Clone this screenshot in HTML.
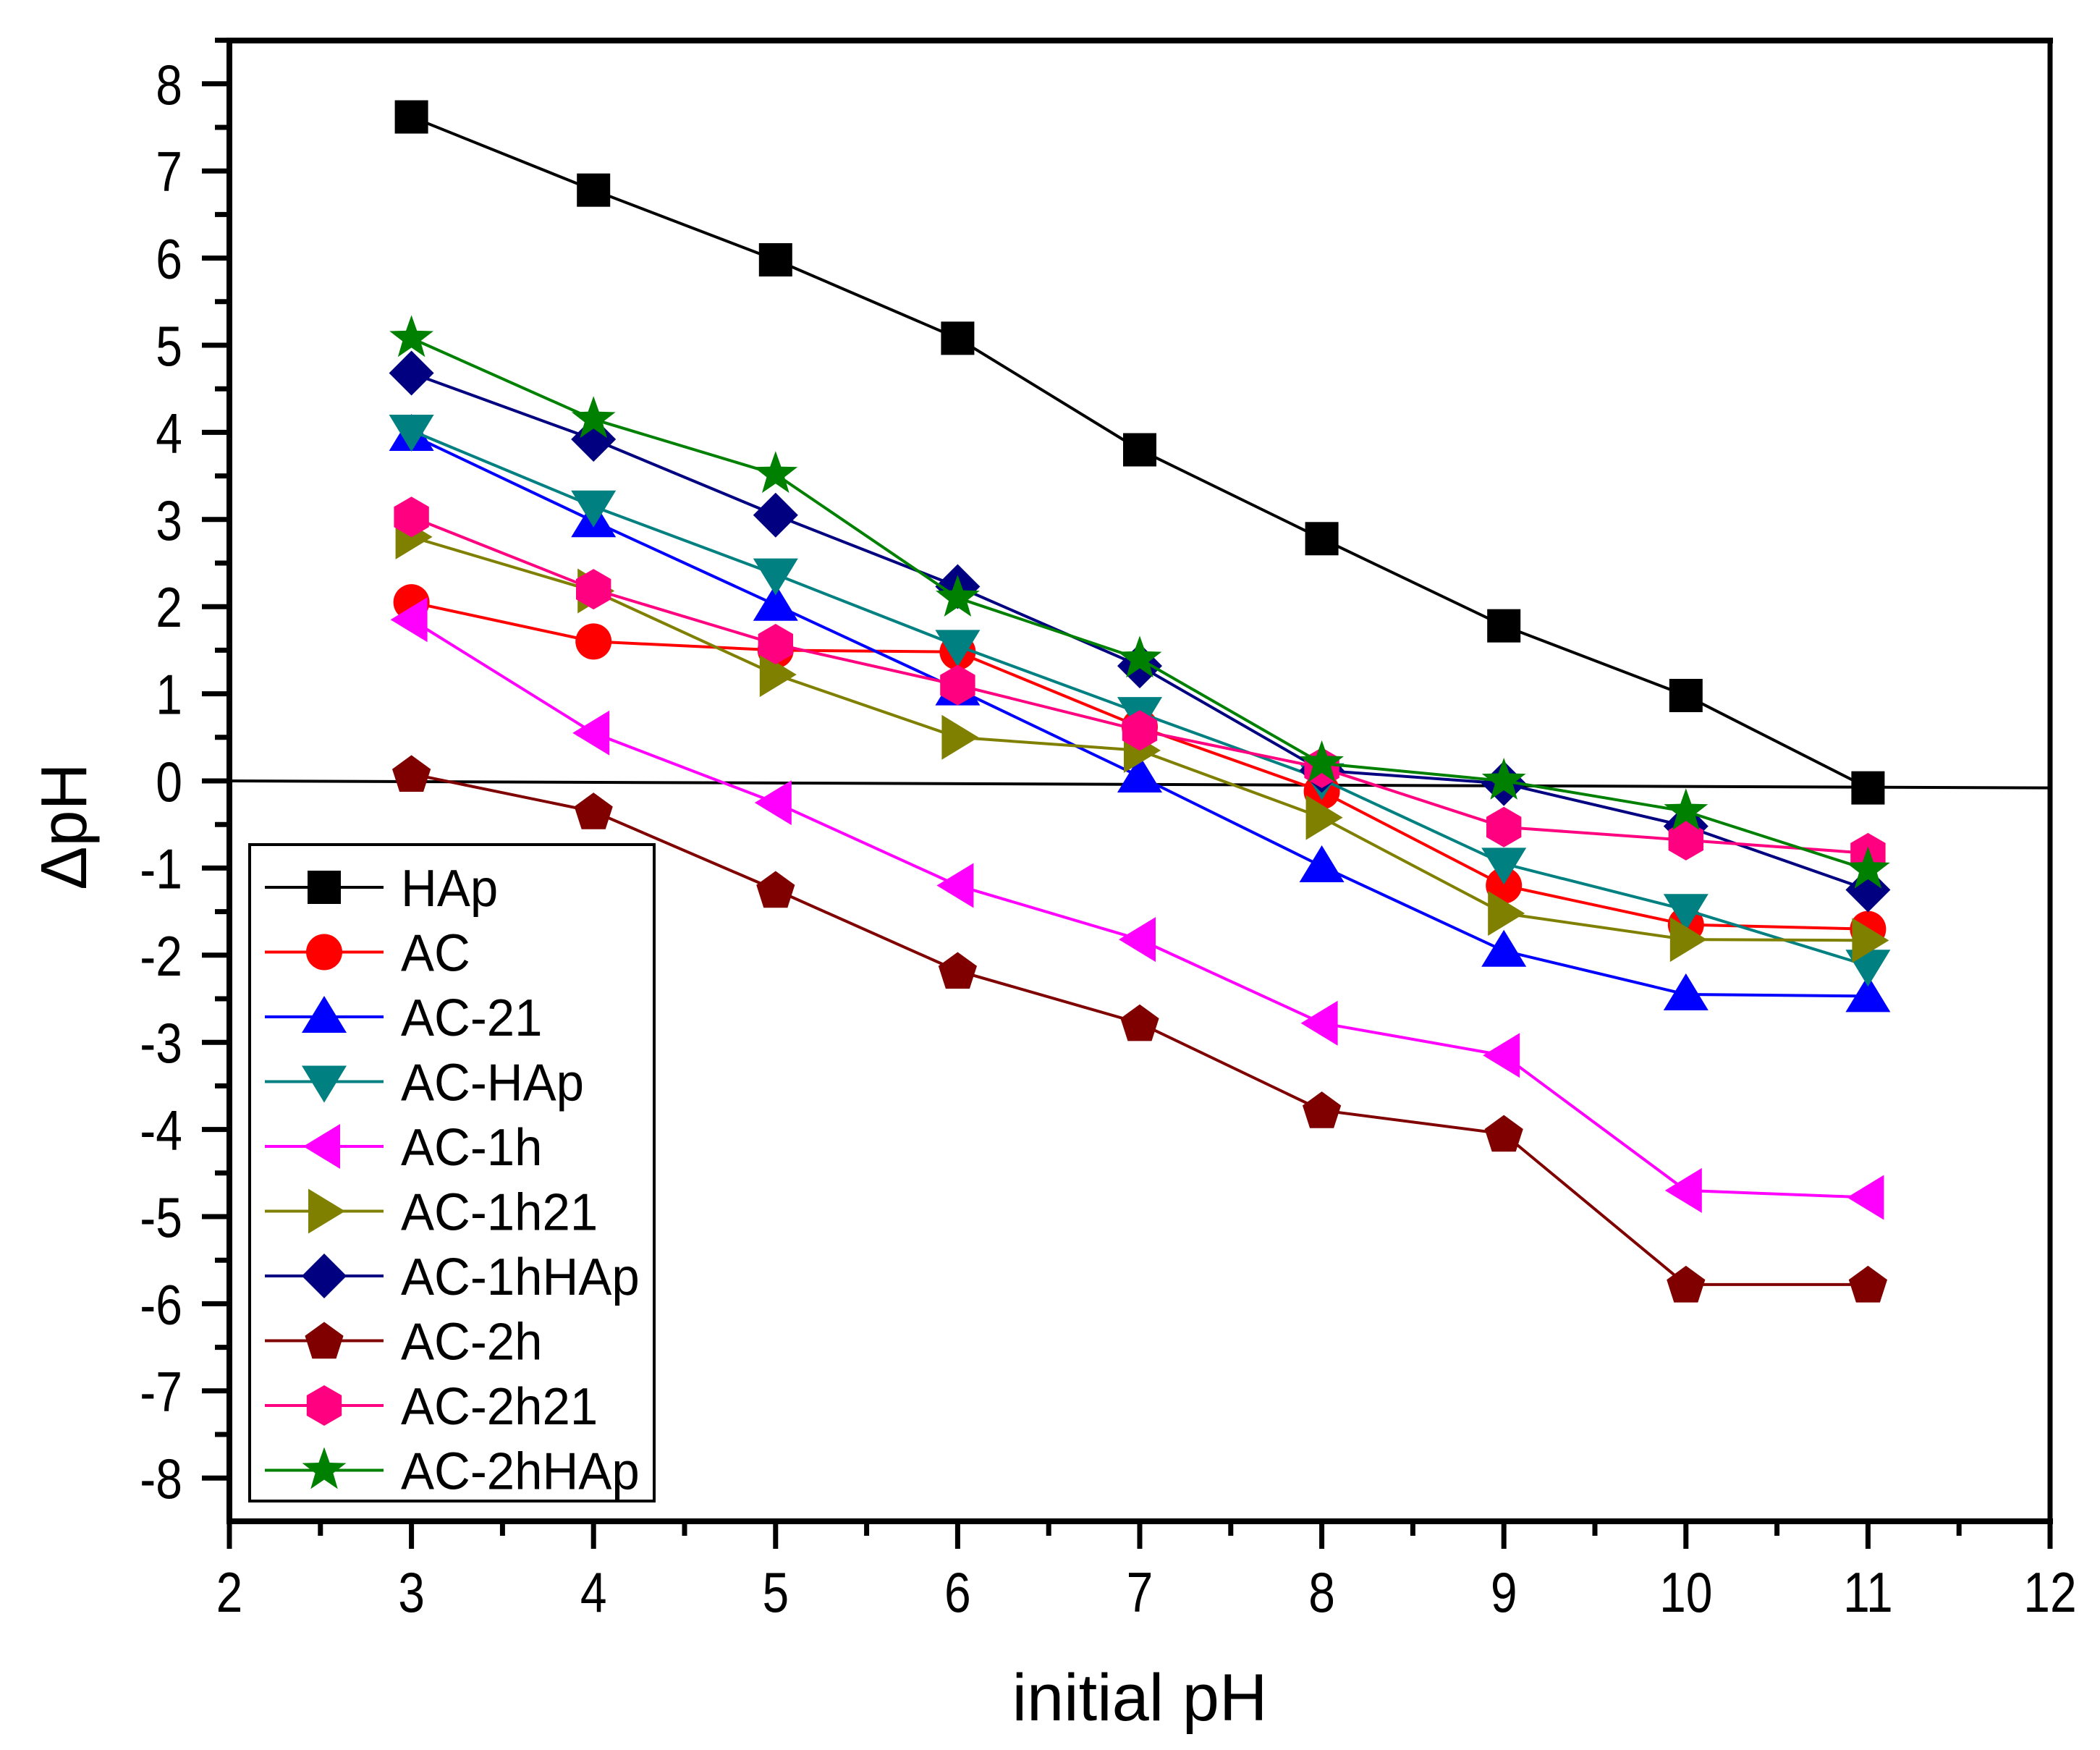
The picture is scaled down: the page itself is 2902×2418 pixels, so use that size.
<!DOCTYPE html>
<html><head><meta charset="utf-8"><style>
html,body{margin:0;padding:0;background:#fff}
svg{display:block}
text{font-family:"Liberation Sans",Arial,sans-serif;fill:#000}
</style></head><body>
<svg id="chart" width="2902" height="2418" viewBox="0 0 2902 2418" xmlns="http://www.w3.org/2000/svg">
<g id="grid-ticks"></g>
<g id="series-layer"></g>
<g id="frame"></g>
<g id="legend"></g>
<text x="1575" y="2377" font-size="92" text-anchor="middle">initial pH</text>
<text x="0" y="0" font-size="90" text-anchor="middle" transform="translate(119,1142) rotate(-90)">ΔpH</text>
</svg>
<script>
const xCats = [3,4,5,6,7,8,9,10,11];
const seriesNames = ["HAp","AC","AC-21","AC-HAp","AC-1h","AC-1h21","AC-1hHAp","AC-2h","AC-2h21","AC-2hHAp"];
const sHAp = [7.62,6.78,5.98,5.08,3.80,2.78,1.78,0.98,-0.08];
const sAC = [2.05,1.60,1.50,1.48,0.62,-0.12,-1.20,-1.65,-1.70];
const sAC21 = [3.97,2.98,2.02,1.05,0.05,-0.98,-1.95,-2.45,-2.47];
const sACHAp = [4.02,3.15,2.37,1.55,0.78,0.02,-0.95,-1.48,-2.12];
const sAC1h = [1.85,0.55,-0.25,-1.20,-1.82,-2.78,-3.15,-4.70,-4.78];
const sAC1h21 = [2.80,2.18,1.22,0.50,0.35,-0.42,-1.52,-1.82,-1.83];
const sAC1hHAp = [4.68,3.92,3.05,2.23,1.32,0.12,-0.03,-0.52,-1.25];
const sAC2h = [0.08,-0.35,-1.25,-2.18,-2.78,-3.78,-4.05,-5.78,-5.78];
const sAC2h21 = [3.03,2.20,1.57,1.10,0.58,0.15,-0.53,-0.68,-0.83];
const sAC2hHAp = [5.08,4.15,3.52,2.10,1.40,0.20,0.00,-0.35,-1.02];
const xTicks = [2,3,4,5,6,7,8,9,10,11,12];
const yTicks = [8,7,6,5,4,3,2,1,0,-1,-2,-3,-4,-5,-6,-7,-8];
const refLineY = [0,-0.08];

const NS="http://www.w3.org/2000/svg";
const X0=317,X1=2833,YT=56,YB=2102;
function xs(v){return X0+(v-2)*(X1-X0)/10;}
function ys(v){return 1079-v*120.4;}
function mk(tag,attrs,parent){const e=document.createElementNS(NS,tag);for(const k in attrs)e.setAttribute(k,attrs[k]);parent.appendChild(e);return e;}

const colors=["#000000","#ff0000","#0000ff","#008080","#ff00ff","#808000","#000080","#800000","#ff0080","#008000"];
const shapes=["square","circle","up","down","left","right","diamond","pentagon","hexagon","star"];
const allData=[sHAp,sAC,sAC21,sACHAp,sAC1h,sAC1h21,sAC1hHAp,sAC2h,sAC2h21,sAC2hHAp];

function poly(cx,cy,n,r,rot){let p=[];for(let i=0;i<n;i++){const a=rot+i*2*Math.PI/n;p.push((cx+r*Math.cos(a)).toFixed(1)+","+(cy+r*Math.sin(a)).toFixed(1));}return p.join(" ");}
function marker(shape,cx,cy,col,parent){
  let e;
  if(shape==="square") e=mk("rect",{x:cx-23,y:cy-23,width:46,height:46,fill:col},parent);
  else if(shape==="circle") e=mk("circle",{cx:cx,cy:cy,r:25,fill:col},parent);
  else if(shape==="up") e=mk("polygon",{points:`${cx},${cy-29} ${cx+31},${cy+22} ${cx-31},${cy+22}`,fill:col},parent);
  else if(shape==="down") e=mk("polygon",{points:`${cx},${cy+29} ${cx+31},${cy-22} ${cx-31},${cy-22}`,fill:col},parent);
  else if(shape==="left") e=mk("polygon",{points:`${cx-29},${cy} ${cx+22},${cy-31} ${cx+22},${cy+31}`,fill:col},parent);
  else if(shape==="right") e=mk("polygon",{points:`${cx+29},${cy} ${cx-22},${cy-31} ${cx-22},${cy+31}`,fill:col},parent);
  else if(shape==="diamond") e=mk("polygon",{points:`${cx},${cy-31} ${cx+31},${cy} ${cx},${cy+31} ${cx-31},${cy}`,fill:col},parent);
  else if(shape==="pentagon") e=mk("polygon",{points:poly(cx,cy+2,5,28,-Math.PI/2),fill:col},parent);
  else if(shape==="hexagon") e=mk("polygon",{points:poly(cx,cy,6,28,-Math.PI/2),fill:col},parent);
  else { let p=[];for(let i=0;i<10;i++){const r=i%2?13:32;const a=-Math.PI/2+i*Math.PI/5;p.push((cx+r*Math.cos(a)).toFixed(1)+","+(cy+r*Math.sin(a)).toFixed(1));} e=mk("polygon",{points:p.join(" "),fill:col},parent);}
  return e;
}

// ticks
const tg=document.getElementById("grid-ticks");
xTicks.forEach(v=>{
  const t=mk("line",{x1:xs(v),x2:xs(v),y1:YB,y2:YB+38,stroke:"#000","stroke-width":7},tg);
  
  
  if(v<12){const m=mk("line",{x1:xs(v+0.5),x2:xs(v+0.5),y1:YB,y2:YB+20,stroke:"#000","stroke-width":7},tg);
  
  }
  const l=mk("text",{x:0,y:0,"font-size":66,"text-anchor":"middle",transform:`translate(${xs(v)},2227) scale(1,1.18)`},tg);
  l.textContent=v;
  
  
});
yTicks.forEach(v=>{
  const t=mk("line",{x1:X0-38,x2:X0,y1:ys(v),y2:ys(v),stroke:"#000","stroke-width":7},tg);
  
  
  if(v>-8){const m=mk("line",{x1:X0-20,x2:X0,y1:ys(v-0.5),y2:ys(v-0.5),stroke:"#000","stroke-width":7},tg);
  
  }
  const l=mk("text",{x:0,y:0,"font-size":66,"text-anchor":"end",transform:`translate(252,${ys(v)+28}) scale(1,1.18)`},tg);
  l.textContent=v;
  
  
});
const m8=mk("line",{x1:X0-20,x2:X0,y1:ys(8.5),y2:ys(8.5),stroke:"#000","stroke-width":7},tg);



// series
const sl=document.getElementById("series-layer");
const zl=mk("line",{x1:X0,x2:X1,y1:ys(refLineY[0]),y2:ys(refLineY[1]),stroke:"#000","stroke-width":4},sl);


allData.forEach((d,si)=>{
  const g=mk("g",{},sl);
  
  
  const pl=mk("polyline",{points:d.map((v,i)=>xs(xCats[i])+","+ys(v)).join(" "),fill:"none",stroke:colors[si],"stroke-width":4},g);
  
  
  d.forEach((v,i)=>{
    const e=marker(shapes[si],xs(xCats[i]),ys(v),colors[si],g);
    
    
  });
});

// frame
const fr=document.getElementById("frame");
mk("line",{x1:X0,x2:X0,y1:YT-4,y2:YB+4,stroke:"#000","stroke-width":8},fr);
mk("line",{x1:X1,x2:X1,y1:YT-4,y2:YB+4,stroke:"#000","stroke-width":7},fr);
mk("line",{x1:X0-4,x2:X1+4,y1:YT,y2:YT,stroke:"#000","stroke-width":8},fr);
mk("line",{x1:X0-4,x2:X1+4,y1:YB,y2:YB,stroke:"#000","stroke-width":8},fr);

// legend
const lg=document.getElementById("legend");
const lb=mk("rect",{x:345,y:1167,width:559,height:907,fill:"#fff",stroke:"#000","stroke-width":4},lg);


seriesNames.forEach((n,i)=>{
  const cy=1226+i*89.5;
  const g=mk("g",{},lg);
  
  
  mk("line",{x1:366,x2:530,y1:cy,y2:cy,stroke:colors[i],"stroke-width":4},g);
  marker(shapes[i],448,cy,colors[i],g);
  const t=mk("text",{x:0,y:0,"font-size":69,transform:`translate(554,${cy+26}) scale(1,1.05)`},g);
  t.textContent=n;
});
</script>
</body></html>
